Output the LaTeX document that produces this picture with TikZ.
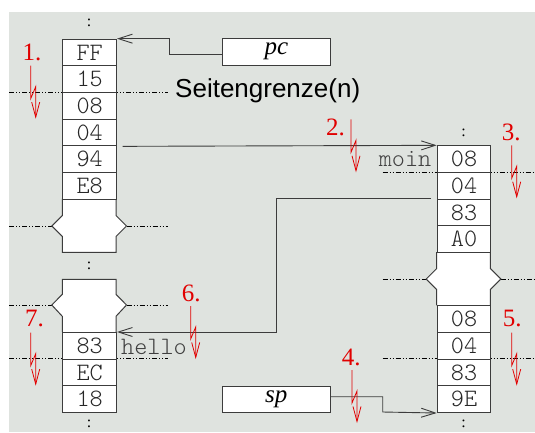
\documentclass[tikz,border=0pt]{standalone}
\usepackage{fontspec}
\setmainfont{Liberation Serif}
\newfontfamily\sgfont{Liberation Sans}
\usetikzlibrary{arrows.meta}
\definecolor{bg}{RGB}{223,227,223}
\definecolor{lred}{RGB}{225,0,0}
\definecolor{lgray}{RGB}{60,60,60}
\newcommand\celltt{\fontsize{25}{25}\selectfont\ttfamily\fontseries{l}\selectfont}
\begin{document}
\begin{tikzpicture}[x=1pt,y=-1pt,
  cell/.style={draw=lgray, line width=1pt, fill=white, minimum width=53.7pt, minimum height=26.67pt, inner sep=0pt, anchor=north west, font=\celltt, text=black!85},
  brk/.style={draw=lgray, line width=1pt, fill=white},
  reg/.style={draw=lgray, line width=1pt, fill=white, minimum width=107.3pt, minimum height=26.7pt, inner sep=0pt, font=\fontsize{25}{25}\selectfont\itshape},
  conn/.style={draw=lgray, line width=0.9pt, -{Straight Barb[length=14pt,width=9pt]}},
  sepline/.style={line width=0.7pt, black, dash pattern=on 5pt off 2pt on 1pt off 2pt on 1pt off 2pt},
  zap/.style={lred, line width=0.8pt, -{Straight Barb[length=15pt,width=8pt]}},
  lab/.style={anchor=base west, inner sep=0pt, text=lred, font=\fontsize{25}{25}\selectfont},
  dots/.style={inner sep=0pt, font=\fontsize{16}{16}\selectfont},
  tt/.style={inner sep=0pt, font=\celltt, text=black!75}]
\useasboundingbox (0,0) rectangle (535,432);
\fill[bg] (9,12) rectangle (535,432);

% separator lines
\draw[sepline] (9,92) -- (168,92);
\draw[sepline] (9,226) -- (51.8,226);
\draw[sepline] (126.5,226) -- (168,226);
\draw[sepline] (9,305) -- (51.8,305);
\draw[sepline] (126.5,305) -- (168,305);
\draw[sepline] (9,358.67) -- (168,358.67);
\draw[sepline] (382.7,172) -- (535,172);
\draw[sepline] (382.7,279) -- (426.2,279);
\draw[sepline] (500.5,279) -- (535,279);
\draw[sepline] (382.7,358.67) -- (535,358.67);

% broken segments
\draw[brk] (62.3,198.67) -- (62.3,215.5) -- (51.8,226) -- (62.3,236.5) -- (62.3,252.3) -- (116,252.3) -- (116,236.5) -- (126.5,226) -- (116,215.5) -- (116,198.67);
\draw[brk] (62.3,332) -- (62.3,316.3) -- (51.8,305) -- (62.3,294.3) -- (62.3,279.3) -- (116,279.3) -- (116,294.3) -- (126.5,305) -- (116,316.3) -- (116,332);
\fill[white] (436.7,252) -- (436.7,268.5) -- (426.2,279) -- (436.7,289.5) -- (436.7,305.33) -- (490.4,305.33) -- (490.4,289.5) -- (500.9,279) -- (490.4,268.5) -- (490.4,252) -- cycle;
\draw[draw=lgray, line width=1pt] (436.7,252) -- (436.7,268.5) -- (426.2,279) -- (436.7,289.5) -- (436.7,305.33);
\draw[draw=lgray, line width=1pt] (490.4,252) -- (490.4,268.5) -- (500.9,279) -- (490.4,289.5) -- (490.4,305.33);

% left column cells
\node[cell] (L1) at (62.3,38.67) {FF};
\node[cell] (L2) at (62.3,65.33) {15};
\node[cell] (L3) at (62.3,92) {08};
\node[cell] (L4) at (62.3,118.67) {04};
\node[cell] (L5) at (62.3,145.33) {94};
\node[cell] (L6) at (62.3,172) {E8};
\node[cell] (L7) at (62.3,332) {83};
\node[cell] (L8) at (62.3,358.67) {EC};
\node[cell] (L9) at (62.3,385.33) {18};

% right column cells
\node[cell] (R1) at (436.7,145.33) {08};
\node[cell] (R2) at (436.7,172) {04};
\node[cell] (R3) at (436.7,198.67) {83};
\node[cell] (R4) at (436.7,225.33) {A0};
\node[cell] (R5) at (436.7,305.33) {08};
\node[cell] (R6) at (436.7,332) {04};
\node[cell] (R7) at (436.7,358.67) {83};
\node[cell] (R8) at (436.7,385.33) {9E};

% dots
\node[dots] (d1) at (89,23) {:};
\node[dots] (d2) at (89,266) {:};
\node[dots] (d3) at (89,424) {:};
\node[dots] (d4) at (463.5,133) {:};
\node[dots] (d5) at (463.5,424) {:};

% registers
\node[reg] (pc) at (276.35,51.65) {pc};
\node[reg] (sp) at (276.35,399.35) {sp};

% texts
\node[anchor=base west, inner sep=0pt, font=\sgfont\fontsize{26}{26}\selectfont] (sg) at (175,97.3) {Seitengrenze(n)};
\node[tt, anchor=base west] (hello) at (121,354.3) {hello};
\node[tt, anchor=base east] (moin) at (431.5,166.7) {moin};

% connectors
\draw[conn] ([yshift=-2.6pt]pc.west) -- (169.3,54.25) |- (L1.north east);
\draw[conn] ([xshift=5.7pt]L4.south east) -- (R1.north west);
\draw[conn] ([xshift=-5.7pt]R3.north west) -- (276,198.67) |- (L7.north east);
\draw[conn] ([yshift=2.6pt]sp.east) -| (382.7,412) -- (R8.south west);

% red labels and zaps
\node[lab] (n1) at (22.3,60) {1.};
\draw[zap] (30.7,65.7) -- ++(0,33) -- ++(5,-12) -- ++(0,32);
\node[lab] (n2) at (326,135) {2.};
\draw[zap] (351,119.3) -- ++(0,33) -- ++(5,-12) -- ++(0,32);
\node[lab] (n3) at (501.7,140.5) {3.};
\draw[zap] (511.7,145.3) -- ++(0,33) -- ++(5,-12) -- ++(0,32);
\node[lab] (n4) at (341.7,365) {4.};
\draw[zap] (352,370) -- ++(0,33) -- ++(5,-12) -- ++(0,32);
\node[lab] (n5) at (502.7,326.7) {5.};
\draw[zap] (511.7,332.7) -- ++(0,33) -- ++(5,-12) -- ++(0,32);
\node[lab] (n6) at (181.7,301.7) {6.};
\draw[zap] (190.7,306) -- ++(0,33) -- ++(5,-12) -- ++(0,32);
\node[lab] (n7) at (25,326.7) {7.};
\draw[zap] (30.7,332.7) -- ++(0,33) -- ++(5,-12) -- ++(0,32);
\end{tikzpicture}
\end{document}
